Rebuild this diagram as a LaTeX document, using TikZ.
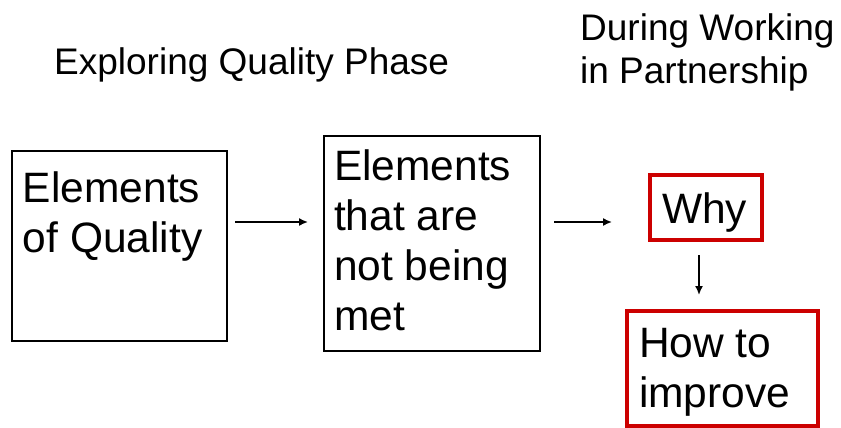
\documentclass[tikz,border=0pt]{standalone}
\usepackage{fontspec}
\setmainfont{Liberation Sans}
\usepackage{xcolor}
\usepackage{tikz}
\usetikzlibrary{arrows.meta}
\definecolor{boxred}{RGB}{204,0,0}
\newcommand{\boxlines}[4]{\parbox[c][#2][t]{#1}{\vspace*{#3}\raggedright #4}}
\tikzset{
    headtext/.style={inner sep=0pt, anchor=north west, align=left, font=\fontsize{37}{43}\selectfont},
    blackbox/.style={draw=black, line width=2pt, inner ysep=0pt, outer sep=0pt, anchor=north west, font=\fontsize{42.5}{50}\selectfont},
    redbox/.style={draw=boxred, line width=4pt, inner ysep=0pt, outer sep=0pt, anchor=north west, font=\fontsize{42.5}{50}\selectfont}
}

\begin{document}
\begin{tikzpicture}[x=1pt, y=-1pt, >={Latex[length=9pt,width=8pt]}]
                \useasboundingbox (0,0) rectangle (841,428);
                \node [headtext] (phase) at (54,47) {Exploring Quality Phase};
                \node [headtext] (during) at (580,13) {During Working\\in Partnership};
                \node [blackbox, inner xsep=11pt] (elem) at (12,151) {\boxlines{193pt}{190pt}{21pt}{Elements\\of Quality}};
                \node [blackbox, inner xsep=10pt] (unmet) at (324,136) {\boxlines{196pt}{215pt}{14pt}{Elements\\that are\\not being\\met}};
                \node [redbox, inner xsep=12pt] (why) at (650,175) {\boxlines{88pt}{65pt}{18pt}{Why}};
                \node [redbox, inner xsep=12pt] (how) at (627,311) {\boxlines{167pt}{115pt}{17pt}{How to\\improve}};
                \coordinate (flow) at (0,222);
                \coordinate (drop) at (699,0);
                \draw [->, line width=1.6pt, shorten <=8pt, shorten >=16pt] (elem.east |- flow) -- (unmet.west |- flow);
                \draw [->, line width=1.6pt, shorten <=14pt, shorten >=38pt] (unmet.east |- flow) -- (why.west |- flow);
                \draw [->, line width=1.6pt, shorten <=15pt, shorten >=16pt] (why.south -| drop) -- (how.north -| drop);
            \end{tikzpicture}
\end{document}
